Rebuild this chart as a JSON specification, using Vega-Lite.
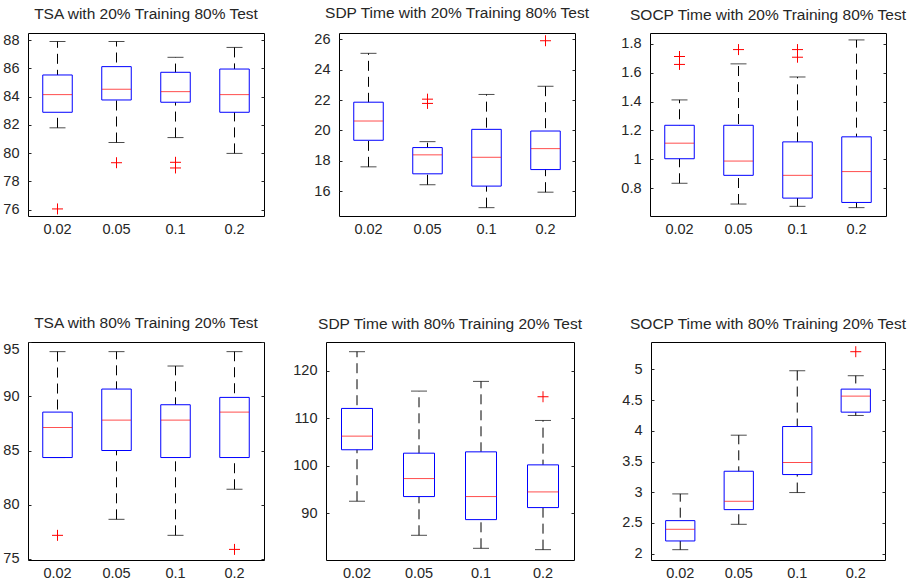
{
  "$schema": "https://vega.github.io/schema/vega-lite/v6.json",
  "padding": {"left": 2, "top": 5, "right": 0, "bottom": 0},
  "background": "white",
  "config": {
    "view": {"stroke": "black", "strokeWidth": 1},
    "axis": {"grid": false, "domain": false, "labelFont": "Liberation Sans", "labelFontSize": 14.5, "labelColor": "#262626", "tickColor": "#262626"},
    "axisX": {"ticks": false, "labelPadding": 6, "labelAngle": 0},
    "axisY": {"tickSize": -3, "labelPadding": 12, "format": "~r"},
    "title": {"font": "Liberation Sans", "fontSize": 15.5, "fontWeight": "normal", "color": "#262626", "offset": 10},
    "tick": {"thickness": 1}
  },
  "vconcat": [
    {
      "hconcat": [
        {
          "width": 236, "height": 183,
          "title": "TSA with 20% Training 80% Test",
          "data": {"values": [
            {"g": "0.02", "lo": 81.79, "q1": 82.89, "med": 84.14, "q3": 85.53, "hi": 87.9},
            {"g": "0.05", "lo": 80.75, "q1": 83.76, "med": 84.52, "q3": 86.12, "hi": 87.9},
            {"g": "0.1", "lo": 81.1, "q1": 83.6, "med": 84.35, "q3": 85.72, "hi": 86.78},
            {"g": "0.2", "lo": 79.98, "q1": 82.89, "med": 84.14, "q3": 85.95, "hi": 87.48}
          ]},
          "encoding": {"x": {"field": "g", "type": "nominal", "sort": null, "scale": {"domain": ["0.02", "0.05", "0.1", "0.2"], "paddingInner": 0, "paddingOuter": 0}, "axis": {"title": null}}},
          "layer": [
            {"mark": {"type": "rule", "color": "black", "strokeDash": [10, 6]}, "encoding": {"y": {"field": "lo", "type": "quantitative", "scale": {"domain": [75.55, 88.5], "nice": false, "zero": false}, "axis": {"title": null, "orient": "left", "values": [76, 78, 80, 82, 84, 86, 88]}}, "y2": {"field": "hi"}}},
            {"mark": {"type": "tick", "color": "black", "size": 16}, "encoding": {"y": {"field": "hi", "type": "quantitative", "axis": {"title": null, "orient": "right", "labels": false, "values": [76, 78, 80, 82, 84, 86, 88]}}}},
            {"mark": {"type": "tick", "color": "black", "size": 16}, "encoding": {"y": {"field": "lo", "type": "quantitative", "axis": null}}},
            {"mark": {"type": "bar", "fill": "white", "stroke": "blue", "strokeWidth": 1, "width": {"band": 0.5}}, "encoding": {"y": {"field": "q1", "type": "quantitative", "axis": null}, "y2": {"field": "q3"}}},
            {"mark": {"type": "tick", "color": "red", "size": 29}, "encoding": {"y": {"field": "med", "type": "quantitative", "axis": null}}},
            {"data": {"values": [{"g": "0.02", "v": 76.05}, {"g": "0.05", "v": 79.32}, {"g": "0.1", "v": 79.35}, {"g": "0.1", "v": 78.95}]}, "mark": {"type": "point", "shape": "M-1,0L1,0M0,-1L0,1", "size": 121, "stroke": "red", "strokeWidth": 1, "filled": false, "opacity": 1}, "encoding": {"y": {"field": "v", "type": "quantitative", "axis": null}}}
          ],
          "resolve": {"axis": {"y": "independent"}}
        },
        {
          "width": 236, "height": 183,
          "title": "SDP Time with 20% Training 80% Test",
          "data": {"values": [
            {"g": "0.02", "lo": 17.6, "q1": 19.35, "med": 20.62, "q3": 21.86, "hi": 25.08},
            {"g": "0.05", "lo": 16.42, "q1": 17.14, "med": 18.39, "q3": 18.87, "hi": 19.26},
            {"g": "0.1", "lo": 14.91, "q1": 16.33, "med": 18.23, "q3": 20.07, "hi": 22.37},
            {"g": "0.2", "lo": 15.93, "q1": 17.42, "med": 18.8, "q3": 19.96, "hi": 22.91}
          ]},
          "encoding": {"x": {"field": "g", "type": "nominal", "sort": null, "scale": {"domain": ["0.02", "0.05", "0.1", "0.2"], "paddingInner": 0, "paddingOuter": 0}, "axis": {"title": null}}},
          "layer": [
            {"mark": {"type": "rule", "color": "black", "strokeDash": [10, 6]}, "encoding": {"y": {"field": "lo", "type": "quantitative", "scale": {"domain": [14.36, 26.42], "nice": false, "zero": false}, "axis": {"title": null, "orient": "left", "values": [16, 18, 20, 22, 24, 26]}}, "y2": {"field": "hi"}}},
            {"mark": {"type": "tick", "color": "black", "size": 16}, "encoding": {"y": {"field": "hi", "type": "quantitative", "axis": {"title": null, "orient": "right", "labels": false, "values": [16, 18, 20, 22, 24, 26]}}}},
            {"mark": {"type": "tick", "color": "black", "size": 16}, "encoding": {"y": {"field": "lo", "type": "quantitative", "axis": null}}},
            {"mark": {"type": "bar", "fill": "white", "stroke": "blue", "strokeWidth": 1, "width": {"band": 0.5}}, "encoding": {"y": {"field": "q1", "type": "quantitative", "axis": null}, "y2": {"field": "q3"}}},
            {"mark": {"type": "tick", "color": "red", "size": 29}, "encoding": {"y": {"field": "med", "type": "quantitative", "axis": null}}},
            {"data": {"values": [{"g": "0.05", "v": 22.06}, {"g": "0.05", "v": 21.78}, {"g": "0.2", "v": 25.91}]}, "mark": {"type": "point", "shape": "M-1,0L1,0M0,-1L0,1", "size": 121, "stroke": "red", "strokeWidth": 1, "filled": false, "opacity": 1}, "encoding": {"y": {"field": "v", "type": "quantitative", "axis": null}}}
          ],
          "resolve": {"axis": {"y": "independent"}}
        },
        {
          "width": 236, "height": 183,
          "title": "SOCP Time with 20% Training 80% Test",
          "data": {"values": [
            {"g": "0.02", "lo": 0.834, "q1": 1.004, "med": 1.112, "q3": 1.236, "hi": 1.412},
            {"g": "0.05", "lo": 0.69, "q1": 0.889, "med": 0.988, "q3": 1.236, "hi": 1.662},
            {"g": "0.1", "lo": 0.674, "q1": 0.731, "med": 0.889, "q3": 1.121, "hi": 1.571},
            {"g": "0.2", "lo": 0.665, "q1": 0.701, "med": 0.915, "q3": 1.156, "hi": 1.828}
          ]},
          "encoding": {"x": {"field": "g", "type": "nominal", "sort": null, "scale": {"domain": ["0.02", "0.05", "0.1", "0.2"], "paddingInner": 0, "paddingOuter": 0}, "axis": {"title": null}}},
          "layer": [
            {"mark": {"type": "rule", "color": "black", "strokeDash": [10, 6]}, "encoding": {"y": {"field": "lo", "type": "quantitative", "scale": {"domain": [0.607, 1.876], "nice": false, "zero": false}, "axis": {"title": null, "orient": "left", "values": [0.8, 1, 1.2, 1.4, 1.6, 1.8]}}, "y2": {"field": "hi"}}},
            {"mark": {"type": "tick", "color": "black", "size": 16}, "encoding": {"y": {"field": "hi", "type": "quantitative", "axis": {"title": null, "orient": "right", "labels": false, "values": [0.8, 1, 1.2, 1.4, 1.6, 1.8]}}}},
            {"mark": {"type": "tick", "color": "black", "size": 16}, "encoding": {"y": {"field": "lo", "type": "quantitative", "axis": null}}},
            {"mark": {"type": "bar", "fill": "white", "stroke": "blue", "strokeWidth": 1, "width": {"band": 0.5}}, "encoding": {"y": {"field": "q1", "type": "quantitative", "axis": null}, "y2": {"field": "q3"}}},
            {"mark": {"type": "tick", "color": "red", "size": 29}, "encoding": {"y": {"field": "med", "type": "quantitative", "axis": null}}},
            {"data": {"values": [{"g": "0.02", "v": 1.713}, {"g": "0.02", "v": 1.658}, {"g": "0.05", "v": 1.761}, {"g": "0.1", "v": 1.761}, {"g": "0.1", "v": 1.708}]}, "mark": {"type": "point", "shape": "M-1,0L1,0M0,-1L0,1", "size": 121, "stroke": "red", "strokeWidth": 1, "filled": false, "opacity": 1}, "encoding": {"y": {"field": "v", "type": "quantitative", "axis": null}}}
          ],
          "resolve": {"axis": {"y": "independent"}}
        }
      ],
      "spacing": 75,
      "bounds": "flush"
    },
    {
      "hconcat": [
        {
          "width": 236, "height": 218,
          "title": "TSA with 80% Training 20% Test",
          "data": {"values": [
            {"g": "0.02", "lo": 84.35, "q1": 84.35, "med": 87.13, "q3": 88.55, "hi": 94.14},
            {"g": "0.05", "lo": 78.64, "q1": 85.0, "med": 87.81, "q3": 90.68, "hi": 94.14},
            {"g": "0.1", "lo": 77.16, "q1": 84.35, "med": 87.81, "q3": 89.23, "hi": 92.81},
            {"g": "0.2", "lo": 81.42, "q1": 84.35, "med": 88.55, "q3": 89.91, "hi": 94.14}
          ]},
          "encoding": {"x": {"field": "g", "type": "nominal", "sort": null, "scale": {"domain": ["0.02", "0.05", "0.1", "0.2"], "paddingInner": 0, "paddingOuter": 0}, "axis": {"title": null}}},
          "layer": [
            {"mark": {"type": "rule", "color": "black", "strokeDash": [10, 6]}, "encoding": {"y": {"field": "lo", "type": "quantitative", "scale": {"domain": [74.88, 95.03], "nice": false, "zero": false}, "axis": {"title": null, "orient": "left", "values": [75, 80, 85, 90, 95], "labelFlush": 1}}, "y2": {"field": "hi"}}},
            {"mark": {"type": "tick", "color": "black", "size": 16}, "encoding": {"y": {"field": "hi", "type": "quantitative", "axis": {"title": null, "orient": "right", "labels": false, "values": [75, 80, 85, 90, 95]}}}},
            {"mark": {"type": "tick", "color": "black", "size": 16}, "encoding": {"y": {"field": "lo", "type": "quantitative", "axis": null}}},
            {"mark": {"type": "bar", "fill": "white", "stroke": "blue", "strokeWidth": 1, "width": {"band": 0.5}}, "encoding": {"y": {"field": "q1", "type": "quantitative", "axis": null}, "y2": {"field": "q3"}}},
            {"mark": {"type": "tick", "color": "red", "size": 29}, "encoding": {"y": {"field": "med", "type": "quantitative", "axis": null}}},
            {"data": {"values": [{"g": "0.02", "v": 77.16}, {"g": "0.2", "v": 75.86}]}, "mark": {"type": "point", "shape": "M-1,0L1,0M0,-1L0,1", "size": 121, "stroke": "red", "strokeWidth": 1, "filled": false, "opacity": 1}, "encoding": {"y": {"field": "v", "type": "quantitative", "axis": null}}}
          ],
          "resolve": {"axis": {"y": "independent"}}
        },
        {
          "width": 22, "height": 218,
          "view": {"stroke": null},
          "data": {"values": []},
          "mark": {"type": "rule"},
          "encoding": {}
        },
        {
          "width": 248, "height": 218,
          "title": "SDP Time with 80% Training 20% Test",
          "data": {"values": [
            {"g": "0.02", "lo": 92.53, "q1": 103.36, "med": 106.23, "q3": 112.06, "hi": 124.0},
            {"g": "0.05", "lo": 85.36, "q1": 93.51, "med": 97.3, "q3": 102.64, "hi": 115.71},
            {"g": "0.1", "lo": 82.62, "q1": 88.66, "med": 93.51, "q3": 102.92, "hi": 117.75},
            {"g": "0.2", "lo": 82.34, "q1": 91.19, "med": 94.49, "q3": 100.18, "hi": 109.53}
          ]},
          "encoding": {"x": {"field": "g", "type": "nominal", "sort": null, "scale": {"domain": ["0.02", "0.05", "0.1", "0.2"], "paddingInner": 0, "paddingOuter": 0}, "axis": {"title": null}}},
          "layer": [
            {"mark": {"type": "rule", "color": "black", "strokeDash": [10, 6]}, "encoding": {"y": {"field": "lo", "type": "quantitative", "scale": {"domain": [80.16, 126.04], "nice": false, "zero": false}, "axis": {"title": null, "orient": "left", "values": [90, 100, 110, 120]}}, "y2": {"field": "hi"}}},
            {"mark": {"type": "tick", "color": "black", "size": 16}, "encoding": {"y": {"field": "hi", "type": "quantitative", "axis": {"title": null, "orient": "right", "labels": false, "values": [90, 100, 110, 120]}}}},
            {"mark": {"type": "tick", "color": "black", "size": 16}, "encoding": {"y": {"field": "lo", "type": "quantitative", "axis": null}}},
            {"mark": {"type": "bar", "fill": "white", "stroke": "blue", "strokeWidth": 1, "width": {"band": 0.5}}, "encoding": {"y": {"field": "q1", "type": "quantitative", "axis": null}, "y2": {"field": "q3"}}},
            {"mark": {"type": "tick", "color": "red", "size": 31}, "encoding": {"y": {"field": "med", "type": "quantitative", "axis": null}}},
            {"data": {"values": [{"g": "0.2", "v": 114.52}]}, "mark": {"type": "point", "shape": "M-1,0L1,0M0,-1L0,1", "size": 121, "stroke": "red", "strokeWidth": 1, "filled": false, "opacity": 1}, "encoding": {"y": {"field": "v", "type": "quantitative", "axis": null}}}
          ],
          "resolve": {"axis": {"y": "independent"}}
        },
        {
          "width": 37, "height": 218,
          "view": {"stroke": null},
          "data": {"values": []},
          "mark": {"type": "rule"},
          "encoding": {}
        },
        {
          "width": 234, "height": 218,
          "title": "SOCP Time with 80% Training 20% Test",
          "data": {"values": [
            {"g": "0.02", "lo": 2.065, "q1": 2.207, "med": 2.397, "q3": 2.538, "hi": 2.973},
            {"g": "0.05", "lo": 2.478, "q1": 2.717, "med": 2.853, "q3": 3.342, "hi": 3.929},
            {"g": "0.1", "lo": 2.995, "q1": 3.288, "med": 3.484, "q3": 4.07, "hi": 4.978},
            {"g": "0.2", "lo": 4.25, "q1": 4.304, "med": 4.565, "q3": 4.679, "hi": 4.897}
          ]},
          "encoding": {"x": {"field": "g", "type": "nominal", "sort": null, "scale": {"domain": ["0.02", "0.05", "0.1", "0.2"], "paddingInner": 0, "paddingOuter": 0}, "axis": {"title": null}}},
          "layer": [
            {"mark": {"type": "rule", "color": "black", "strokeDash": [10, 6]}, "encoding": {"y": {"field": "lo", "type": "quantitative", "scale": {"domain": [1.897, 5.446], "nice": false, "zero": false}, "axis": {"title": null, "orient": "left", "values": [2, 2.5, 3, 3.5, 4, 4.5, 5]}}, "y2": {"field": "hi"}}},
            {"mark": {"type": "tick", "color": "black", "size": 16}, "encoding": {"y": {"field": "hi", "type": "quantitative", "axis": {"title": null, "orient": "right", "labels": false, "values": [2, 2.5, 3, 3.5, 4, 4.5, 5]}}}},
            {"mark": {"type": "tick", "color": "black", "size": 16}, "encoding": {"y": {"field": "lo", "type": "quantitative", "axis": null}}},
            {"mark": {"type": "bar", "fill": "white", "stroke": "blue", "strokeWidth": 1, "width": {"band": 0.5}}, "encoding": {"y": {"field": "q1", "type": "quantitative", "axis": null}, "y2": {"field": "q3"}}},
            {"mark": {"type": "tick", "color": "red", "size": 29}, "encoding": {"y": {"field": "med", "type": "quantitative", "axis": null}}},
            {"data": {"values": [{"g": "0.2", "v": 5.288}]}, "mark": {"type": "point", "shape": "M-1,0L1,0M0,-1L0,1", "size": 121, "stroke": "red", "strokeWidth": 1, "filled": false, "opacity": 1}, "encoding": {"y": {"field": "v", "type": "quantitative", "axis": null}}}
          ],
          "resolve": {"axis": {"y": "independent"}}
        }
      ],
      "spacing": 20,
      "bounds": "flush"
    }
  ],
  "spacing": 79
}
